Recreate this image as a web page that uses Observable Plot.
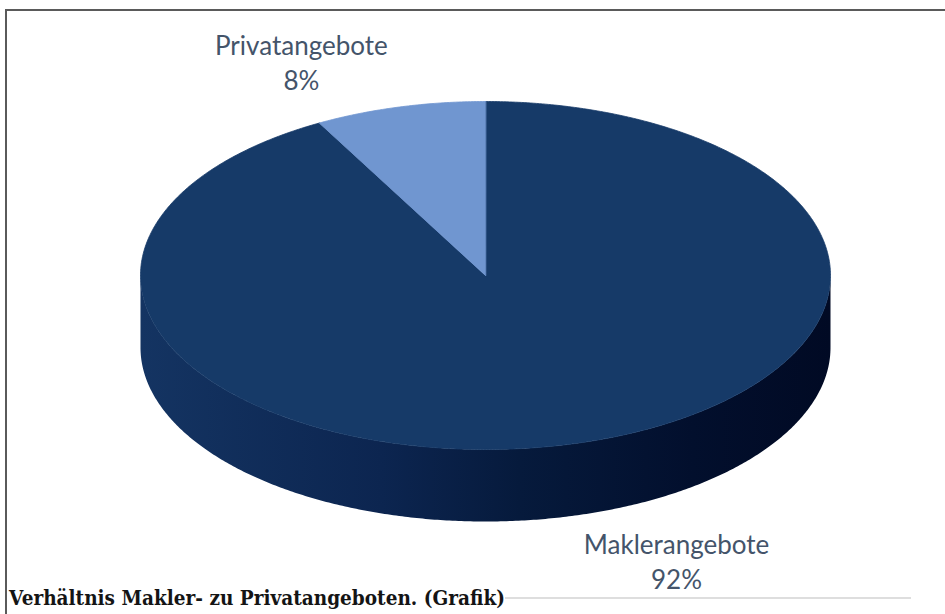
<!DOCTYPE html>
<html>
<head>
<meta charset="utf-8">
<script src="https://cdn.jsdelivr.net/npm/d3@7"></script>
<script src="https://cdn.jsdelivr.net/npm/@observablehq/plot@0.6"></script>
<style>
  body { margin: 0; background: #ffffff; }
  #wrap { position: relative; width: 945px; height: 614px; overflow: hidden; background: #ffffff; }
  #chart { position: absolute; left: 0; top: 0; }
  #frame { position: absolute; left: 5px; top: 9px; right: -10px; bottom: -10px;
           border-top: 2px solid #5a5a5a; border-left: 2px solid #5a5a5a; }
  #rule { position: absolute; left: 505px; top: 597px; width: 406px; height: 2px; background: #dedede; }
  #caption { position: absolute; left: 9px; top: 587px; font-family: "DejaVu Serif", serif;
             font-weight: bold; font-size: 21px; line-height: 1; color: #141414; white-space: nowrap;
             transform-origin: 0 0; }
</style>
</head>
<body>
<div id="wrap">
  <div id="chart"></div>
  <div id="rule"></div>
  <div id="frame"></div>
  <div id="caption"></div>
</div>
<script>
// ---- data ----
const categories = ["Maklerangebote", "Privatangebote"];
const shares = [92, 8];
const shareLabels = ["92%", "8%"];
const captionText = "Verhältnis Makler- zu Privatangeboten. (Grafik)";

// ---- styles / layout ----
const topColors = ["#163a68", "#7096d0"];
const sideStops = [
  [["0%", "#143462"], ["35%", "#0c2550"], ["55%", "#061a3c"], ["80%", "#020f2d"], ["100%", "#010a24"]],
  [["0%", "#4f72ad"], ["100%", "#2a4a80"]]
];
const depth = 0.414;                // pie thickness, in radius units (y)
const labelOffsets = [{dx: 0.305, dy: 0.255}, {dx: -0.285, dy: -0.262}];

// ---- geometry from data ----
const total = d3.sum(shares);
let acc = 0;
const slices = categories.map((c, i) => {
  const a0 = acc / total * 2 * Math.PI;
  acc += shares[i];
  const a1 = acc / total * 2 * Math.PI;
  return {c, i, a0, a1};
});
const STEP = Math.PI / 360;
const arcAngles = (a0, a1) => {
  const n = Math.max(2, Math.ceil((a1 - a0) / STEP));
  return d3.range(n + 1).map(k => a0 + (a1 - a0) * k / n);
};
const topPts = slices.flatMap(s => [
  {c: s.c, i: s.i, x: 0, y: 0},
  ...arcAngles(s.a0, s.a1).map(a => ({c: s.c, i: s.i, x: Math.sin(a), y: -Math.cos(a)}))
]);
const sidePts = slices.flatMap(s => {
  const lo = Math.max(s.a0, Math.PI / 2), hi = Math.min(s.a1, 3 * Math.PI / 2);
  if (hi <= lo) return [];
  const arc = arcAngles(lo, hi);
  return [
    ...arc.map(a => ({c: s.c, i: s.i, x: Math.sin(a), y: -Math.cos(a)})),
    ...arc.slice().reverse().map(a => ({c: s.c, i: s.i, x: Math.sin(a), y: -Math.cos(a) + depth}))
  ];
});
const labels = slices.map(s => {
  const m = (s.a0 + s.a1) / 2;
  const front = Math.cos(m) < 0;
  return {
    text: `${s.c}\n${shareLabels[s.i]}`,
    x: Math.sin(m) + labelOffsets[s.i].dx,
    y: -Math.cos(m) + (front ? depth : 0) + labelOffsets[s.i].dy
  };
});

const chart = Plot.plot({
  width: 945,
  height: 614,
  margin: 0,
  x: {domain: [-1, 1], range: [140, 830], axis: null},
  y: {domain: [-1, 1], range: [101, 449], axis: null},
  color: {type: "identity"},
  style: {background: "transparent"},
  marks: [
    Plot.line(sidePts, {x: "x", y: "y", z: "c", fill: d => `url(#side-${d.i})`, stroke: "none", curve: "linear-closed"}),
    Plot.line(topPts, {x: "x", y: "y", z: "c", fill: d => topColors[d.i], stroke: d => topColors[d.i], strokeWidth: 0.8, curve: "linear-closed"}),
    Plot.text(labels, {x: "x", y: "y", text: "text", fontSize: 26, fontFamily: "Lato, 'Open Sans', sans-serif",
      fill: "#44546a", lineHeight: 1.35, textAnchor: "middle", lineAnchor: "middle"})
  ]
});

const defs = d3.select(chart).insert("defs", ":first-child");
sideStops.forEach((stops, i) => {
  const g = defs.append("linearGradient").attr("id", `side-${i}`).attr("x1", 0).attr("x2", 1).attr("y1", 0).attr("y2", 0);
  stops.forEach(([o, c]) => g.append("stop").attr("offset", o).attr("stop-color", c));
});

document.getElementById("chart").appendChild(chart);
const cap = document.getElementById("caption");
cap.textContent = captionText;
const w = cap.getBoundingClientRect().width;
cap.style.transform = `scaleX(${496 / w})`;
</script>
</body>
</html>
